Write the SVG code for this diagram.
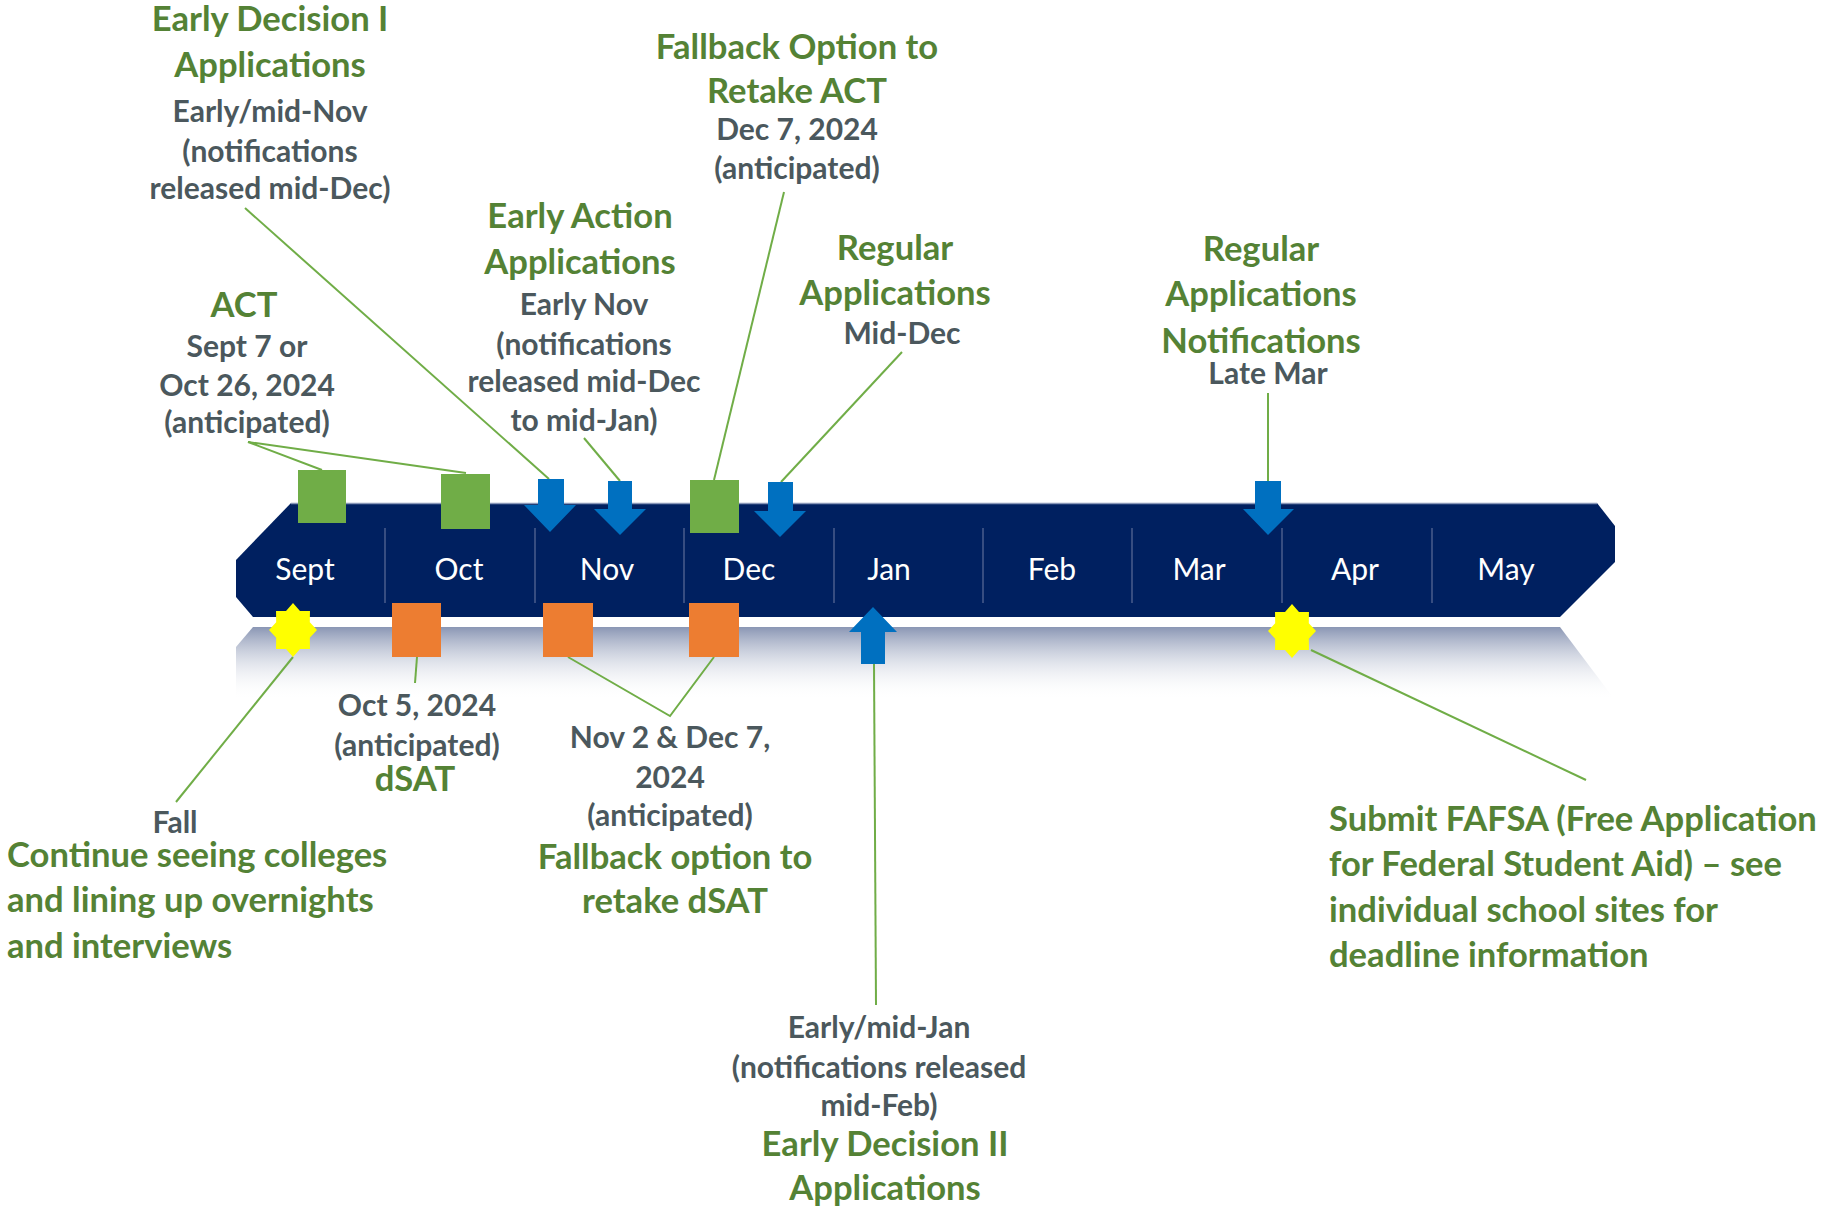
<svg xmlns="http://www.w3.org/2000/svg" width="1826" height="1206" viewBox="0 0 1826 1206">
<style>
text{font-family:Lato,"Open Sans","Liberation Sans",sans-serif}
.g{fill:#548235;font-weight:bold;font-size:34.6px}
.k{fill:#4B585D;font-weight:bold;font-size:30px}
.m{fill:#FFFFFF;font-size:30px;text-anchor:middle}
.c{text-anchor:middle}
.sqg{fill:#70AD47}
.sqo{fill:#ED7D31}
.arr{fill:#0070C0}
.star{fill:#FFFF00}
.ln{stroke:#70AD47;stroke-width:2;fill:none}
.div{stroke:#4A5C8C;stroke-width:1.5}
</style>
<defs>
<linearGradient id="refl" x1="0" y1="0" x2="0" y2="1">
<stop offset="0" stop-color="#8A96B4"/>
<stop offset="1" stop-color="#FFFFFF" stop-opacity="0"/>
</linearGradient>
<path id="star8" d="M0,-27 L6.97,-18.94 L16.97,-19.09 L16.81,-7.85 L24,0 L16.81,7.85 L16.97,19.09 L6.97,18.94 L0,27 L-6.97,18.94 L-16.97,19.09 L-16.81,7.85 L-24,0 L-16.81,-7.85 L-16.97,-19.09 L-6.97,-18.94 Z"/>
</defs>
<rect width="1826" height="1206" fill="#FFFFFF"/>
<g id="timeline">
<polygon points="253,627 1560,627 1615,700 236,700 236,647" fill="url(#refl)"/>
<polygon points="291,503 1597,503 1615,526 1615,562 1560,617 253,617 236,597 236,560" fill="#002060"/>
<line x1="291" y1="503.5" x2="1597" y2="503.5" stroke="#8896B8" stroke-width="1.5"/>
<g class="div">
<line x1="385" y1="528" x2="385" y2="603"/>
<line x1="535" y1="528" x2="535" y2="603"/>
<line x1="684" y1="528" x2="684" y2="603"/>
<line x1="834" y1="528" x2="834" y2="603"/>
<line x1="983" y1="528" x2="983" y2="603"/>
<line x1="1132" y1="528" x2="1132" y2="603"/>
<line x1="1282" y1="528" x2="1282" y2="603"/>
<line x1="1432" y1="528" x2="1432" y2="603"/>
</g>
<text class="m" x="305" y="580">Sept</text>
<text class="m" x="459" y="580">Oct</text>
<text class="m" x="607" y="580">Nov</text>
<text class="m" x="749" y="580">Dec</text>
<text class="m" x="889" y="580">Jan</text>
<text class="m" x="1052" y="580">Feb</text>
<text class="m" x="1199" y="580">Mar</text>
<text class="m" x="1355" y="580">Apr</text>
<text class="m" x="1506" y="580">May</text>
</g>
<g id="connectors" class="ln">
<polyline points="322,470 248,442 466,473"/>
<line x1="245" y1="208" x2="549" y2="479"/>
<line x1="584" y1="438" x2="620" y2="481"/>
<line x1="784" y1="192" x2="714" y2="480"/>
<line x1="902" y1="352" x2="781" y2="482"/>
<line x1="1268" y1="393" x2="1268" y2="481"/>
<line x1="293" y1="657" x2="176" y2="802"/>
<line x1="417" y1="657" x2="415" y2="683"/>
<polyline points="568,657 670,716 714,657"/>
<line x1="874" y1="664" x2="876" y2="1005"/>
<line x1="1311" y1="650" x2="1586" y2="780"/>
</g>
<g id="act-squares">
<rect class="sqg" x="298" y="470" width="48" height="53"/>
<rect class="sqg" x="441" y="474" width="49" height="55"/>
</g>
<g id="act-retake-square">
<rect class="sqg" x="690" y="480" width="49" height="53"/>
</g>
<g id="ed1-arrow"><polygon class="arr" points="538,479 564,479 564,505 576,505 550,532 524,505 538,505"/></g>
<g id="ea-arrow"><polygon class="arr" points="608,481 632,481 632,509 646,509 620,535 594,509 608,509"/></g>
<g id="regular-arrow"><polygon class="arr" points="768,482 793,482 793,511 806,511 780,537 754,511 768,511"/></g>
<g id="notif-arrow"><polygon class="arr" points="1255,481 1281,481 1281,509 1294,509 1268,535 1243,509 1255,509"/></g>
<g id="ed2-arrow"><polygon class="arr" points="873,607 897,632 885,632 885,664 861,664 861,632 849,632"/></g>
<g id="dsat-squares">
<rect class="sqo" x="392" y="603" width="49" height="54"/>
<rect class="sqo" x="543" y="603" width="50" height="54"/>
<rect class="sqo" x="689" y="603" width="50" height="54"/>
</g>
<g id="fall-star"><use href="#star8" class="star" transform="translate(293,630)"/></g>
<g id="fafsa-star"><use href="#star8" class="star" transform="translate(1292,631)"/></g>
<g id="ed1-label">
<text class="g c" x="270" y="31">Early Decision I</text>
<text class="g c" x="270" y="77">Applications</text>
<text class="k c" x="270" y="122">Early/mid-Nov</text>
<text class="k c" x="270" y="162">(notifications</text>
<text class="k c" x="270" y="199">released mid-Dec)</text>
</g>
<g id="act-label">
<text class="g c" x="244" y="317">ACT</text>
<text class="k c" x="247" y="357">Sept 7 or</text>
<text class="k c" x="247" y="396">Oct 26, 2024</text>
<text class="k c" x="247" y="433">(anticipated)</text>
</g>
<g id="ea-label">
<text class="g c" x="580" y="228">Early Action</text>
<text class="g c" x="580" y="274">Applications</text>
<text class="k c" x="584" y="315">Early Nov</text>
<text class="k c" x="584" y="355">(notifications</text>
<text class="k c" x="584" y="392">released mid-Dec</text>
<text class="k c" x="584" y="431">to mid-Jan)</text>
</g>
<g id="act-retake-label">
<text class="g c" x="797" y="59">Fallback Option to</text>
<text class="g c" x="797" y="103">Retake ACT</text>
<text class="k c" x="797" y="140">Dec 7, 2024</text>
<text class="k c" x="797" y="179">(anticipated)</text>
</g>
<g id="regular-label">
<text class="g c" x="895" y="260">Regular</text>
<text class="g c" x="895" y="305">Applications</text>
<text class="k c" x="902" y="344">Mid-Dec</text>
</g>
<g id="notif-label">
<text class="g c" x="1261" y="261">Regular</text>
<text class="g c" x="1261" y="306">Applications</text>
<text class="g c" x="1261" y="353">Notifications</text>
<text class="k c" x="1268" y="384">Late Mar</text>
</g>
<g id="fall-label">
<text class="k c" x="175" y="833">Fall</text>
<text class="g" x="7" y="867">Continue seeing colleges</text>
<text class="g" x="7" y="912">and lining up overnights</text>
<text class="g" x="7" y="958">and interviews</text>
</g>
<g id="dsat-label">
<text class="k c" x="417" y="716">Oct 5, 2024</text>
<text class="k c" x="417" y="756">(anticipated)</text>
<text class="g c" x="415" y="791">dSAT</text>
</g>
<g id="dsat-retake-label">
<text class="k c" x="670" y="748">Nov 2 &amp; Dec 7,</text>
<text class="k c" x="670" y="788">2024</text>
<text class="k c" x="670" y="826">(anticipated)</text>
<text class="g c" x="675" y="869">Fallback option to</text>
<text class="g c" x="675" y="913">retake dSAT</text>
</g>
<g id="ed2-label">
<text class="k c" x="879" y="1038">Early/mid-Jan</text>
<text class="k c" x="879" y="1078">(notifications released</text>
<text class="k c" x="879" y="1116">mid-Feb)</text>
<text class="g c" x="885" y="1156">Early Decision II</text>
<text class="g c" x="885" y="1200">Applications</text>
</g>
<g id="fafsa-label">
<text class="g" x="1329" y="831">Submit FAFSA (Free Application</text>
<text class="g" x="1329" y="876">for Federal Student Aid) – see</text>
<text class="g" x="1329" y="922">individual school sites for</text>
<text class="g" x="1329" y="967">deadline information</text>
</g>
</svg>
